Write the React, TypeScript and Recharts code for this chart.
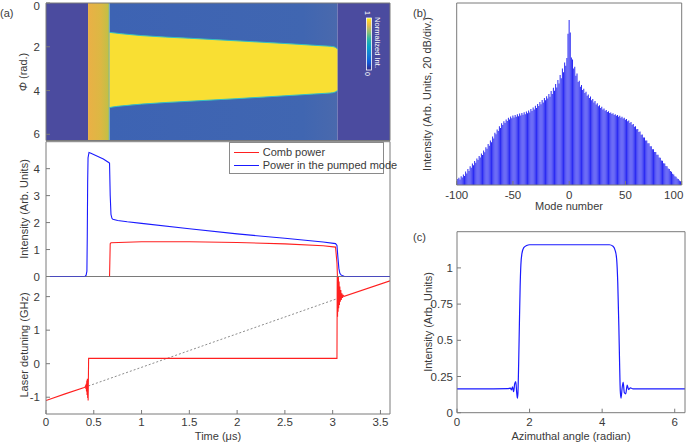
import React from 'react';
import { ComposedChart, Line, Area, Bar, XAxis, YAxis, ReferenceArea, Legend } from 'recharts';

const FONT = '"Liberation Sans", Arial, Helvetica, sans-serif';
const AXIS = '#7a7a7a';
const TEXT = '#3a3a3a';
const TICK_FS = 11.5;
const TWO_PI = 6.2832;

// ---------- panel (a) ----------
const timeTicks = [0, 0.5, 1, 1.5, 2, 2.5, 3, 3.5];
const phiTicks = [0, 2, 4, 6];
const powerTicks = [0, 1, 2, 3, 4];
const detuneTicks = [-1, 0, 1, 2];

// heat-map background regions (time ranges)
const regionStart = [0, 0.44, 0.665, 3.05];
const regionEnd = [0.44, 0.665, 3.05, 3.6];
const regionFill = ['#4b4b9f', 'url(#bandGrad)', 'url(#blueGrad)', '#4b4b9f'];

// soliton (bright) region edges
const bandT = [0.665, 0.7, 0.8, 1.0, 1.5, 2.0, 2.5, 2.8, 2.95, 3.0, 3.03, 3.05];
const bandTop = [1.34, 1.36, 1.41, 1.49, 1.61, 1.73, 1.85, 1.93, 1.97, 1.99, 2.03, 2.1];
const bandBottom = [4.78, 4.75, 4.7, 4.62, 4.49, 4.37, 4.24, 4.16, 4.12, 4.1, 4.06, 4.0];

// power in the pumped mode
const pumpT = [0, 0.38, 0.41, 0.42, 0.428, 0.432, 0.436, 0.44, 0.45, 0.47, 0.6, 0.66, 0.665, 0.672, 0.68, 0.69, 0.7, 0.75, 0.85, 1.0, 1.5, 2.0, 2.5, 2.9, 3.03, 3.045, 3.055, 3.065, 3.075, 3.09, 3.12, 3.2, 3.6];
const pumpP = [0, 0, 0.01, 0.05, 0.2, 1.5, 3.5, 4.4, 4.6, 4.57, 4.36, 4.22, 4.2, 3.0, 2.3, 2.16, 2.12, 2.08, 2.03, 1.97, 1.77, 1.58, 1.42, 1.28, 1.22, 1.15, 0.7, 0.3, 0.12, 0.05, 0.01, 0, 0];

// comb power
const combT = [0.665, 0.668, 0.672, 0.68, 1.0, 1.5, 2.0, 2.5, 2.9, 3.03, 3.045, 3.05];
const combP = [0, 0.5, 1.22, 1.25, 1.29, 1.29, 1.26, 1.21, 1.14, 1.09, 0.5, 0];

const legendNames = ['Comb power', 'Power in the pumped mode'];
const legendColors = ['#ff2020', '#1a1aff'];

// laser detuning (GHz)
const detT = [0, 0.2, 0.4, 0.41, 0.415, 0.418, 0.421, 0.424, 0.427, 0.43, 0.433, 0.436, 0.439, 0.441, 0.443, 0.446, 1.0, 2.0, 3.045, 3.048, 3.051, 3.054, 3.057, 3.06, 3.063, 3.067, 3.071, 3.075, 3.08, 3.085, 3.09, 3.096, 3.103, 3.11, 3.12, 3.6];
const detV = [-1.1, -0.9, -0.71, -0.69, -0.66, -0.75, -0.6, -0.83, -0.5, -0.93, -0.45, -1.02, -0.5, -1.1, -0.6, 0.16, 0.16, 0.16, 0.16, 2.8, 1.4, 2.75, 1.55, 2.62, 1.65, 2.45, 1.75, 2.3, 1.85, 2.2, 1.9, 2.1, 1.96, 2.04, 2.01, 2.47];
const rampT = [0.443, 3.048];
const rampV = [-0.665, 1.94];

// ---------- panel (b) ----------
const modeTicks = [-100, -50, 0, 50, 100];
const specTicks = [0, 20, 40, 60, 80];
const specVals = [
  0.8, 2.6, 3.2, 2.4, 3.9, 3.3, 4.6, 4.0, 5.9, 5.1,
  7.0, 6.2, 8.2, 7.6, 9.4, 8.7, 10.5, 9.8, 11.7, 11.0,
  12.8, 12.1, 13.9, 13.2, 15.2, 14.4, 16.6, 15.9, 18.0, 17.2,
  19.6, 18.8, 21.3, 20.4, 23.0, 22.3, 24.4, 23.7, 25.8, 25.1,
  27.1, 26.4, 28.0, 27.2, 28.8, 28.1, 29.6, 28.8, 30.1, 29.3,
  30.5, 29.7, 30.8, 30.0, 31.1, 30.2, 31.4, 30.5, 31.7, 30.9,
  32.0, 31.1, 32.3, 31.5, 32.8, 31.9, 33.4, 32.5, 34.1, 33.2,
  34.8, 33.8, 35.6, 34.7, 36.5, 35.5, 37.4, 36.3, 38.2, 37.2,
  39.0, 38.0, 40.0, 38.8, 41.3, 40.0, 42.8, 41.4, 44.4, 42.9,
  46.2, 44.6, 48.4, 46.9, 51.2, 49.6, 53.8, 52.4, 55.8, 66.5,
  72.5,
  67.0, 56.0, 55.2, 51.2, 52.0, 48.0, 49.0, 45.3, 45.8, 43.2,
  44.0, 41.8, 42.3, 40.4, 41.0, 39.2, 39.8, 38.2, 38.9, 37.2,
  37.8, 36.3, 36.9, 35.4, 35.9, 34.6, 35.1, 33.9, 34.4, 33.2,
  33.6, 32.6, 33.0, 32.1, 32.4, 31.6, 31.9, 31.2, 31.5, 30.8,
  31.1, 30.4, 30.8, 30.0, 30.4, 29.6, 30.0, 29.2, 29.6, 28.7,
  29.0, 28.0, 28.4, 27.3, 27.7, 26.5, 26.8, 25.6, 25.8, 24.5,
  24.6, 23.3, 23.5, 22.1, 22.2, 20.9, 20.9, 19.6, 19.6, 18.3,
  18.3, 17.0, 17.0, 15.7, 15.7, 14.5, 14.5, 13.3, 13.3, 12.1,
  12.0, 10.8, 10.7, 9.6, 9.5, 8.4, 8.2, 7.2, 7.0, 6.1,
  5.8, 5.0, 4.6, 3.9, 3.6, 2.9, 2.6, 2.0, 1.6, 0.8,
];

// ---------- panel (c) ----------
const angleTicks = [0, 2, 4, 6];
const profTicks = [0, 0.25, 0.5, 0.75, 1];
const angle = [0, 1.0, 1.4, 1.47, 1.5, 1.53, 1.56, 1.59, 1.62, 1.645, 1.665, 1.68, 1.7, 1.72, 1.74, 1.76, 1.79, 1.84, 1.92, 2.0, 3.0, 4.2, 4.3, 4.36, 4.4, 4.43, 4.46, 4.48, 4.5, 4.52, 4.55, 4.58, 4.61, 4.65, 4.69, 4.73, 4.78, 4.85, 5.0, 6.2832];
const profile = [0.165, 0.165, 0.166, 0.17, 0.158, 0.178, 0.145, 0.2, 0.215, 0.14, 0.1, 0.14, 0.35, 0.62, 0.87, 1.02, 1.1, 1.14, 1.155, 1.16, 1.16, 1.16, 1.15, 1.12, 1.06, 0.9, 0.6, 0.35, 0.15, 0.1, 0.17, 0.21, 0.14, 0.13, 0.19, 0.16, 0.172, 0.164, 0.165, 0.165];

// ---------- derived tables ----------
const bandData = bandT.map((t, i) => ({ t, r: [bandTop[i], bandBottom[i]] }));
const pumpData = pumpT.map((t, i) => ({ t, v: pumpP[i] }));
const combData = combT.map((t, i) => ({ t, v: combP[i] }));
const detData = detT.map((t, i) => ({ t, v: detV[i] }));
const rampData = rampT.map((t, i) => ({ t, v: rampV[i] }));
const specData = specVals.map((v, i) => ({ m: i - 100, v }));
const profData = angle.map((a, i) => ({ a, v: profile[i] }));

const tickStyle = { fontSize: TICK_FS, fill: TEXT, fontFamily: FONT };

// y tick for the heat map: keeps the top "0" inside the picture
const PhiTick = (p: any) => (
  <text x={p.x} y={Math.max(p.y, 5.6)} dy="0.355em" textAnchor="end" fontSize={TICK_FS} fill={TEXT} fontFamily={FONT}>
    {p.payload.value}
  </text>
);
// x tick for the spectrum: the last label is pulled inside the picture
const ModeTick = (p: any) => (
  <text x={p.payload.value === 100 ? p.x - 8 : p.x} y={p.y} dy="0.71em" textAnchor="middle" fontSize={TICK_FS} fill={TEXT} fontFamily={FONT}>
    {p.payload.value}
  </text>
);

const LegendBox = () => (
  <div style={{ width: 155, height: 32, border: '1px solid #8a8a8a', background: '#fff', boxSizing: 'border-box', position: 'relative', fontFamily: FONT, fontSize: 11, color: TEXT }}>
    {legendNames.map((n, i) => (
      <div key={n} style={{ position: 'absolute', left: 4, top: 3 + i * 13, height: 13, display: 'flex', alignItems: 'center', whiteSpace: 'nowrap' }}>
        <span style={{ display: 'inline-block', width: 25, height: 0, borderTop: `1.2px solid ${legendColors[i]}`, marginRight: 4 }} />
        <span>{n}</span>
      </div>
    ))}
  </div>
);

function timeAxes(withLabels: boolean, height: number, bottomLine: boolean, topLine: boolean) {
  return [
    <XAxis key="xb" xAxisId={0} type="number" dataKey="t" domain={[0, 3.6]} ticks={timeTicks} interval={0} allowDataOverflow height={height}
      stroke={AXIS} axisLine={bottomLine} tickSize={-4} tickMargin={8} tick={withLabels ? tickStyle : false} />,
    <XAxis key="xt" xAxisId="top" orientation="top" type="number" dataKey="t" domain={[0, 3.6]} ticks={timeTicks} interval={0} allowDataOverflow height={1}
      stroke={AXIS} axisLine={topLine} tickSize={-4} tick={false} />,
  ];
}

function App() {
  return (
    <div style={{ position: 'absolute', left: 0, top: 0, width: 689, height: 445, background: '#fff', fontFamily: FONT, overflow: 'hidden' }}>
      {/* (a) heat map */}
      <div style={{ position: 'absolute', left: 0, top: 0 }}>
        <ComposedChart width={400} height={150} data={bandData} margin={{ top: 2, right: 9, bottom: 8.5, left: 6 }}>
          <defs>
            <linearGradient id="bandGrad" x1="0" y1="0" x2="1" y2="0">
              <stop offset="0" stopColor="#eab046" />
              <stop offset="0.6" stopColor="#dcb843" />
              <stop offset="0.93" stopColor="#c4bf45" />
              <stop offset="1" stopColor="#58c0b0" />
            </linearGradient>
            <linearGradient id="blueGrad" x1="0" y1="0" x2="1" y2="0">
              <stop offset="0" stopColor="#3d63b3" />
              <stop offset="0.85" stopColor="#4066b1" />
              <stop offset="1" stopColor="#4a69ad" />
            </linearGradient>
          </defs>
          {timeAxes(false, 1, true, true)}
          <YAxis yAxisId={0} type="number" domain={[0, TWO_PI]} reversed ticks={phiTicks} interval={0} allowDataOverflow width={40}
            stroke={AXIS} tickSize={-4} tickMargin={10} tick={PhiTick} />
          <YAxis yAxisId="r" orientation="right" type="number" domain={[0, TWO_PI]} reversed ticks={phiTicks} interval={0} width={1}
            stroke={AXIS} tickSize={-4} tick={false} />
          {regionStart.map((s, i) => (
            <ReferenceArea key={i} x1={s} x2={regionEnd[i]} y1={0} y2={TWO_PI} fill={regionFill[i]} fillOpacity={1} stroke="none" ifOverflow="hidden" />
          ))}
          <Area dataKey="r" type="monotone" fill="#f9df33" fillOpacity={1} stroke="#33bfc4" strokeWidth={1} isAnimationActive={false} dot={false} activeDot={false} />
        </ComposedChart>
      </div>

      {/* (a) detuning */}
      <div style={{ position: 'absolute', left: 0, top: 270 }}>
        <ComposedChart width={400} height={175} margin={{ top: 5.5, right: 9, bottom: 0, left: 6 }}>
          {timeAxes(true, 31, true, true)}
          <YAxis yAxisId={0} type="number" domain={[-1.5, 2.6]} ticks={detuneTicks} interval={0} allowDataOverflow width={40}
            stroke={AXIS} tickSize={-4} tickMargin={10} tick={tickStyle} />
          <YAxis yAxisId="r" orientation="right" type="number" domain={[-1.5, 2.6]} ticks={detuneTicks} interval={0} width={1}
            stroke={AXIS} tickSize={-4} tick={false} />
          <Line data={rampData} dataKey="v" type="linear" stroke="#8c8c8c" strokeWidth={1} strokeDasharray="2 2" dot={false} activeDot={false} isAnimationActive={false} />
          <Line data={detData} dataKey="v" type="linear" stroke="#ff2020" strokeWidth={1.1} dot={false} activeDot={false} isAnimationActive={false} />
        </ComposedChart>
      </div>

      {/* (a) powers (drawn last so its zero-level trace lies over the shared border) */}
      <div style={{ position: 'absolute', left: 0, top: 140 }}>
        <ComposedChart width={400} height={146} margin={{ top: 0.7, right: 9, bottom: 8.5, left: 6 }}>
          {timeAxes(false, 1, false, true)}
          <YAxis yAxisId={0} type="number" domain={[0, 5]} ticks={powerTicks} interval={0} allowDataOverflow width={40}
            stroke={AXIS} tickSize={-4} tickMargin={10} tick={tickStyle} />
          <YAxis yAxisId="r" orientation="right" type="number" domain={[0, 5]} ticks={powerTicks} interval={0} width={1}
            stroke={AXIS} tickSize={-4} tick={false} />
          <Line data={combData} dataKey="v" name={legendNames[0]} type="linear" stroke={legendColors[0]} strokeWidth={1.1} dot={false} activeDot={false} isAnimationActive={false} />
          <Line data={pumpData} dataKey="v" name={legendNames[1]} type="linear" stroke={legendColors[1]} strokeWidth={1.1} dot={false} activeDot={false} isAnimationActive={false} />
          <Legend layout="horizontal" verticalAlign="middle" align="center" content={() => <LegendBox />}
            wrapperStyle={{ position: 'absolute', left: 228.7, top: 1.7, width: 155, height: 32 }} />
        </ComposedChart>
      </div>

      {/* (b) spectrum */}
      <div style={{ position: 'absolute', left: 400, top: 0 }}>
        <ComposedChart width={289} height={220} data={specData} margin={{ top: 2, right: 6.3, bottom: 5, left: 46.7 }}>
          <XAxis xAxisId={0} type="number" dataKey="m" domain={[-100, 100]} ticks={modeTicks} interval={0} allowDataOverflow height={30}
            stroke={AXIS} tickSize={-4} tickMargin={10} tick={ModeTick} />
          <XAxis xAxisId="top" orientation="top" type="number" dataKey="m" domain={[-100, 100]} ticks={modeTicks} interval={0} height={1}
            stroke={AXIS} tickSize={-4} tick={false} />
          <YAxis yAxisId={0} type="number" domain={[0, 80]} ticks={specTicks} interval={0} allowDataOverflow width={10}
            stroke={AXIS} tickSize={-4} tick={false} />
          <YAxis yAxisId="r" orientation="right" type="number" domain={[0, 80]} ticks={specTicks} interval={0} width={1}
            stroke={AXIS} tickSize={-4} tick={false} />
          <Bar dataKey="v" fill="#2a2af2" barSize={1} isAnimationActive={false} />
        </ComposedChart>
      </div>

      {/* (c) profile */}
      <div style={{ position: 'absolute', left: 400, top: 220 }}>
        <ComposedChart width={289} height={225} data={profData} margin={{ top: 10.7, right: 3, bottom: 2.3, left: 17 }}>
          <XAxis xAxisId={0} type="number" dataKey="a" domain={[0, TWO_PI]} ticks={angleTicks} interval={0} allowDataOverflow height={30}
            stroke={AXIS} tickSize={-4} tickMargin={9} tick={tickStyle} />
          <XAxis xAxisId="top" orientation="top" type="number" dataKey="a" domain={[0, TWO_PI]} ticks={angleTicks} interval={0} height={1}
            stroke={AXIS} tickSize={-4} tick={false} />
          <YAxis yAxisId={0} type="number" domain={[0, 1.25]} ticks={profTicks} interval={0} allowDataOverflow width={40}
            stroke={AXIS} tickSize={-4} tickMargin={8} tick={tickStyle} />
          <YAxis yAxisId="r" orientation="right" type="number" domain={[0, 1.25]} ticks={profTicks} interval={0} width={1}
            stroke={AXIS} tickSize={-4} tick={false} />
          <Line dataKey="v" type="monotone" stroke="#1a1aff" strokeWidth={1.2} dot={false} activeDot={false} isAnimationActive={false} />
        </ComposedChart>
      </div>

      {/* titles, panel letters, colour bar */}
      <svg width={689} height={445} style={{ position: 'absolute', left: 0, top: 0, pointerEvents: 'none' }} fontFamily={FONT}>
        <defs>
          <linearGradient id="parula" x1="0" y1="1" x2="0" y2="0">
            <stop offset="0" stopColor="#352a87" />
            <stop offset="0.15" stopColor="#0f5cdd" />
            <stop offset="0.3" stopColor="#1481d6" />
            <stop offset="0.45" stopColor="#06a4ca" />
            <stop offset="0.6" stopColor="#2eb7a4" />
            <stop offset="0.72" stopColor="#87bf77" />
            <stop offset="0.85" stopColor="#dfb952" />
            <stop offset="0.93" stopColor="#fcce2e" />
            <stop offset="1" stopColor="#f9fb0e" />
          </linearGradient>
        </defs>
        <rect x={366.5} y={18} width={5} height={52} fill="url(#parula)" stroke="#ffffff" strokeWidth={0.8} />
        <text transform="translate(365,11) rotate(90)" fontSize={7} fill="#ffffff">1</text>
        <text transform="translate(365,72) rotate(90)" fontSize={7} fill="#ffffff">0</text>
        <text transform="translate(374.5,17) rotate(90)" fontSize={7.6} fill="#ffffff">Normalized Int.</text>

        <text x={0} y={17} fontSize={11} fill={TEXT}>(a)</text>
        <text transform="translate(27,72) rotate(-90)" textAnchor="middle" fontSize={11} fill={TEXT}>
          <tspan fontStyle="italic">Φ</tspan> (rad.)
        </text>
        <text transform="translate(28,209) rotate(-90)" textAnchor="middle" fontSize={11} fill={TEXT}>Intensity (Arb. Units)</text>
        <text transform="translate(28,345) rotate(-90)" textAnchor="middle" fontSize={11} fill={TEXT}>Laser detuning (GHz)</text>
        <text x={218} y={440} textAnchor="middle" fontSize={11} fill={TEXT}>Time (μs)</text>

        <text x={413} y={17} fontSize={11} fill={TEXT}>(b)</text>
        <text transform="translate(431,94) rotate(-90)" textAnchor="middle" fontSize={11} fill={TEXT}>Intensity (Arb. Units, 20 dB/div.)</text>
        <text x={569} y={210} textAnchor="middle" fontSize={11} fill={TEXT}>Mode number</text>

        <text x={413} y={241} fontSize={11} fill={TEXT}>(c)</text>
        <text transform="translate(431.5,322) rotate(-90)" textAnchor="middle" fontSize={11} fill={TEXT}>Intensity (Arb. Units)</text>
        <text x={571} y={440} textAnchor="middle" fontSize={11} fill={TEXT}>Azimuthal angle (radian)</text>
      </svg>
    </div>
  );
}

export default App;
